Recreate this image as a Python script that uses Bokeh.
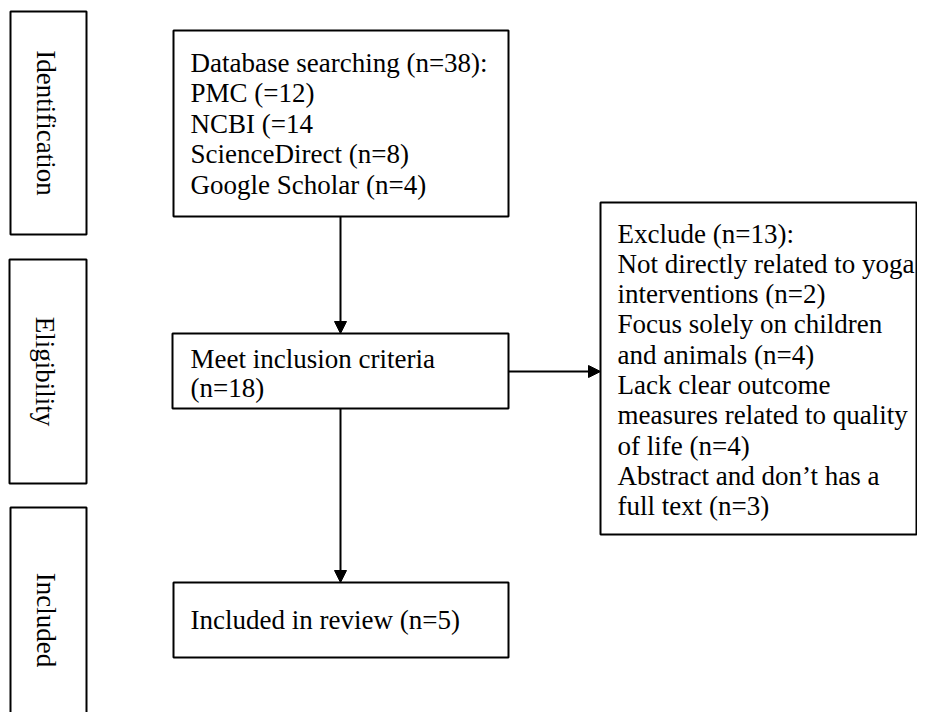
import math
from bokeh.plotting import figure
from bokeh.models import Range1d, Arrow, NormalHead
from bokeh.core.properties import value
from bokeh.embed import file_html
from bokeh.resources import INLINE

# ---------------- data (texts and counts) ----------------
stage_labels = ["Identification", "Eligibility", "Included"]

search_total = 38
source_names = ["PMC", "NCBI", "ScienceDirect", "Google Scholar"]
source_counts = [12, 14, 8, 4]
source_texts = ["PMC (=12)", "NCBI (=14", "ScienceDirect (n=8)", "Google Scholar (n=4)"]

eligible_count = 18
excluded_total = 13
exclude_lines = [
    "Exclude (n=13):",
    "Not directly related to yoga",
    "interventions (n=2)",
    "Focus solely on children",
    "and animals (n=4)",
    "Lack clear outcome",
    "measures related to quality",
    "of life (n=4)",
    "Abstract and don\u2019t has a",
    "full text (n=3)",
]
included_count = 5

search_lines = ["Database searching (n=%d):" % search_total] + source_texts
meet_lines = ["Meet inclusion criteria", "(n=%d)" % eligible_count]
included_lines = ["Included in review (n=%d)" % included_count]

# ---------------- layout (pixel coordinates of the reference) ----------------
W, H = 917, 712
FONT = "Liberation Serif"
FSIZE = "27px"
LINE = 30.3
TEXT_SHIFT = -9  # compensates the renderer's baseline placement

side_boxes = [  # left, right, top, bottom
    (10, 86, 11, 234),
    (9, 86, 259, 483),
    (10, 86, 507, 732),
]
main_boxes = {
    "search": (173, 508, 30, 216),
    "meet": (172, 508, 333, 408),
    "included": (173, 508, 582, 657),
    "exclude": (600, 916, 202, 534),
}
text_blocks = [  # lines, left x, first baseline, line spacing
    (search_lines, 190, 71, 30.5),
    (meet_lines, 190, 367, 29.5),
    (included_lines, 190, 628, 30),
    (exclude_lines, 617, 242, 30.3),
]

p = figure(width=W, height=H, output_backend="svg", toolbar_location=None,
           x_range=Range1d(0, W), y_range=Range1d(H, 0),
           min_border=0, outline_line_color=None)
p.axis.visible = False
p.grid.visible = False
p.background_fill_color = "white"
p.border_fill_color = "white"

all_boxes = side_boxes + list(main_boxes.values())
p.quad(left=[b[0] for b in all_boxes], right=[b[1] for b in all_boxes],
       top=[b[2] for b in all_boxes], bottom=[b[3] for b in all_boxes],
       fill_color="white", line_color="black", line_width=2)

# side stage labels, rotated to read top-to-bottom
sx = [(b[0] + b[1]) / 2 - 3 for b in side_boxes]
sy = [(b[2] + b[3]) / 2 for b in side_boxes]
p.text(x=sx, y=sy, text=stage_labels, angle=-math.pi / 2,
       text_align="center", text_baseline="middle",
       text_font=value(FONT), text_font_size=FSIZE, text_color="black")

# box texts
xs, ys, ts = [], [], []
for lines, x0, y0, sp in text_blocks:
    for i, t in enumerate(lines):
        xs.append(x0)
        ys.append(y0 + i * sp + TEXT_SHIFT)
        ts.append(t)
p.text(x=xs, y=ys, text=ts, text_align="left", text_baseline="alphabetic",
       text_font=value(FONT), text_font_size=FSIZE, text_color="black")

# arrows
s, m, inc, ex = main_boxes["search"], main_boxes["meet"], main_boxes["included"], main_boxes["exclude"]
arrows = [
    (340, s[3], 340, m[2]),
    (340, m[3], 340, inc[2]),
    (m[1], 371, ex[0], 371),
]
for x0, y0, x1, y1 in arrows:
    p.add_layout(Arrow(end=NormalHead(size=12, fill_color="black", line_color="black", line_width=1),
                       x_start=x0, y_start=y0, x_end=x1, y_end=y1,
                       line_color="black", line_width=2))

open("out.html", "w").write(file_html(p, INLINE))
